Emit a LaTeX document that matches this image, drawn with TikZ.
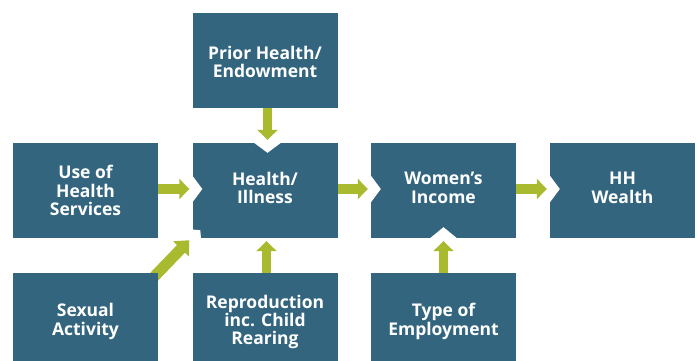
\documentclass[tikz,border=0pt]{standalone}
\usepackage{fontspec}
\setmainfont{Open Sans}
\usetikzlibrary{arrows.meta}
\definecolor{boxblue}{HTML}{33657F}
\definecolor{arrowgreen}{HTML}{A9BA2F}
\begin{document}
\begin{tikzpicture}[x=1pt,y=-1pt,
  box/.style={fill=boxblue, minimum width=145pt, minimum height=95pt, inner sep=0pt},
  boxtext/.style={text=white, inner sep=0pt, align=center,
    font=\bfseries\fontsize{17.5}{18.4}\selectfont},
  flow/.style={arrowgreen, line width=9.5pt,
    -{Triangle[width=20pt,length=10pt]}, shorten >=3pt},
  slantflow/.style={arrowgreen, line width=11pt,
    -{Triangle[width=21pt,length=12pt]}},
  notch/.style={fill=white, draw=none}]
\useasboundingbox (0,0) rectangle (697,360);
\clip (0,0) rectangle (697,360);

% top and middle rows
\node[box] (prior)  at (265,60.5)    {};
\node[box] (health) at (265,190.5)   {};
\node[box] (use)    at (85.5,190.5)  {};
\node[box] (women)  at (443.5,190.5) {};
\node[box] (hh)     at (622.5,190.5) {};

% the slanted arrow runs under the box it starts from
\draw[slantflow] (150,281) coordinate (sstart) -- ([shift={(-3,2)}]health.south west);

% bottom row
\node[box] (sexual) at (85.5,320.5)  {};
\node[box] (repro)  at (265,320.5)   {};
\node[box] (type)   at (443.5,320.5) {};

% labels
\node[boxtext] (priortxt)  at ([shift={(0,1.5)}]prior.center)   {Prior Health/\\Endowment};
\node[boxtext] (healthtxt) at ([shift={(0,-2.5)}]health.center) {Health/\\Illness};
\node[boxtext] (usetxt)    at ([shift={(0,0)}]use.center)       {Use of\\Health\\Services};
\node[boxtext] (womentxt)  at ([shift={(0,-2.5)}]women.center)  {Women’s\\Income};
\node[boxtext] (hhtxt)     at ([shift={(0,-2.5)}]hh.center)     {HH\\Wealth};
\node[boxtext] (sexualtxt) at ([shift={(0,1)}]sexual.center)    {Sexual\\Activity};
\node[boxtext] (reprotxt)  at ([shift={(0,1.5)}]repro.center)   {Reproduction\\inc. Child\\Rearing};
\node[boxtext] (typetxt)   at ([shift={(0,1)}]type.center)      {Type of\\Employment};

% white notches where arrows enter
\coordinate (nt)  at ([shift={(2.5,0)}]health.north);
\coordinate (nl1) at ([shift={(0,-1.5)}]health.west);
\coordinate (nl2) at ([shift={(0,-1.5)}]women.west);
\coordinate (nl3) at ([shift={(0,-1.5)}]hh.west);
\coordinate (nb)  at (women.south);
\fill[notch] ([shift={(-13.5,0)}]nt) -- ++(13.5,10) -- ++(13.5,-10) -- cycle;
\foreach \n in {nl1,nl2,nl3}
  \fill[notch] ([shift={(0,-13.5)}]\n) -- ++(10,13.5) -- ++(-10,13.5) -- cycle;
\fill[notch] ([shift={(-13.5,0)}]nb) -- ++(13.5,-11) -- ++(13.5,11) -- cycle;
\fill[notch] ([shift={(-9.5,-9.5)}]health.south west) -- ++(17.5,1.5) -- ++(1.5,17.5) -- cycle;

% arrows
\draw[flow] ([shift={(2.5,0)}]prior.south) -- ([shift={(2.5,0)}]health.north);
\draw[flow] ([shift={(0,-1.5)}]use.east) -- ([shift={(0,-1.5)}]health.west);
\draw[flow] ([shift={(0,-1.5)}]health.east) -- ([shift={(0,-1.5)}]women.west);
\draw[flow] ([shift={(0,-1.5)}]women.east) -- ([shift={(0,-1.5)}]hh.west);
\draw[flow] ([shift={(1.5,0)}]repro.north) -- ([shift={(1.5,0)}]health.south);
\draw[flow] (type.north) -- (women.south);
\end{tikzpicture}
\end{document}
